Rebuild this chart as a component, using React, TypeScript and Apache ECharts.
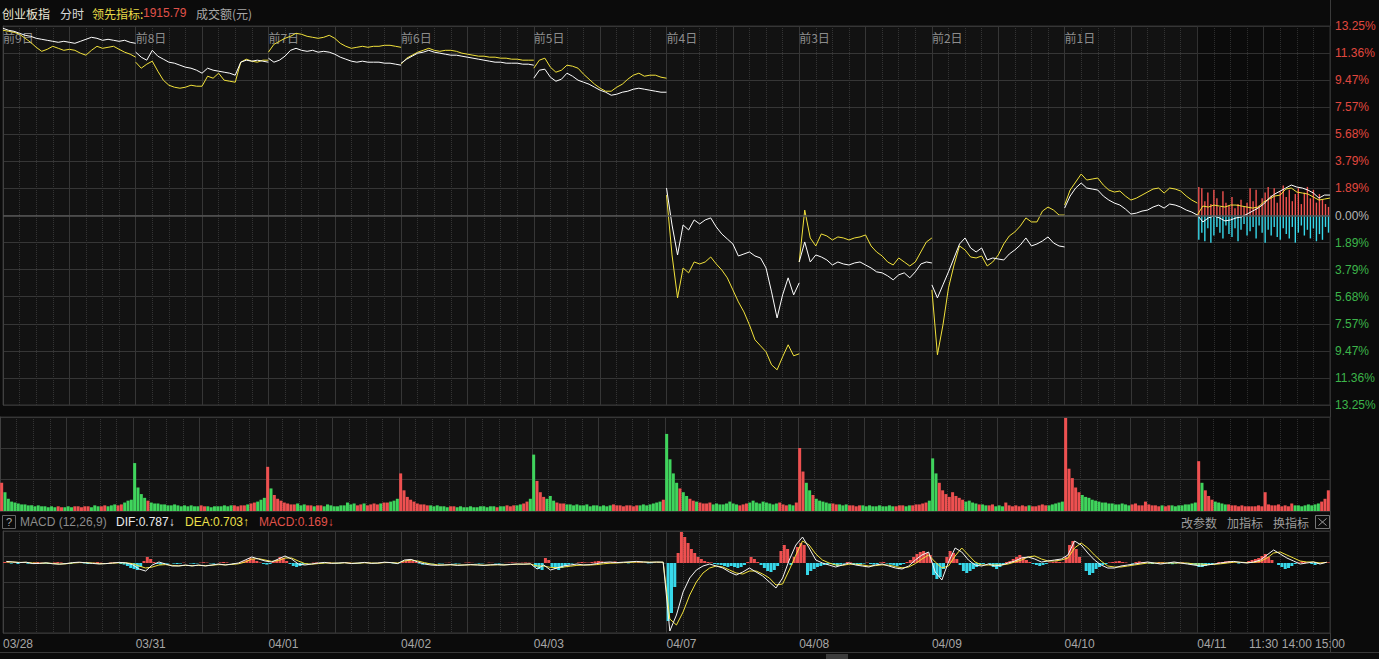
import React, { useEffect, useRef } from "react";
import * as echarts from "echarts";

// ---------- data ----------
const dayDates = ["03/28", "03/31", "04/01", "04/02", "04/03", "04/07", "04/08", "04/09", "04/10", "04/11"];
const dayTags = ["前9日", "前8日", "前7日", "前6日", "前5日", "前4日", "前3日", "前2日", "前1日"];
const timeLabels = ["11:30", "14:00", "15:00"];
const timeOffsets = [120, 180, 240]; // minutes after today's open
const yTickLabels = ["13.25%", "11.36%", "9.47%", "7.57%", "5.68%", "3.79%", "1.89%", "0.00%", "1.89%", "3.79%", "5.68%", "7.57%", "9.47%", "11.36%", "13.25%"];

// 创业板指 (white), % vs today's pre-close, 10-minute points per day
const whiteLine: number[][] = [
  [13.09, 12.95, 12.88, 12.74, 12.6, 12.53, 12.39, 12.32, 12.25, 12.18, 12.11, 12.18, 12.11, 12.04, 12.18, 12.32, 12.46, 12.39, 12.25, 12.32, 12.25, 12.18, 12.25, 12.11, 12.04],
  [11.42, 11.07, 10.86, 11.55, 11.14, 10.93, 10.72, 10.65, 10.51, 10.37, 10.3, 10.16, 9.95, 10.3, 10.16, 10.09, 10.02, 9.95, 9.81, 10.72, 10.86, 10.79, 10.86, 10.79, 10.72],
  [11.0, 10.72, 10.86, 11.14, 11.55, 11.69, 11.55, 11.48, 11.55, 11.42, 11.48, 11.42, 11.28, 11.07, 10.93, 10.79, 10.72, 10.79, 10.72, 10.72, 10.72, 10.65, 10.65, 10.58, 10.51],
  [10.65, 10.93, 11.14, 11.35, 11.42, 11.55, 11.42, 11.35, 11.28, 11.21, 11.21, 11.14, 11.07, 11.0, 10.93, 10.86, 10.79, 10.72, 10.72, 10.65, 10.65, 10.65, 10.58, 10.58, 10.51],
  [9.6, 10.16, 10.23, 9.67, 9.39, 9.53, 9.95, 9.74, 9.46, 9.32, 9.18, 8.97, 8.76, 8.62, 8.41, 8.48, 8.62, 8.69, 8.83, 8.9, 8.83, 8.76, 8.69, 8.62, 8.62],
  [1.92, -0.66, -2.76, -0.66, -1.01, -0.31, -0.59, -0.31, -0.17, -0.8, -1.29, -1.64, -1.99, -2.83, -2.69, -2.55, -2.83, -2.97, -3.67, -5.34, -7.16, -5.55, -4.36, -5.55, -4.71],
  [-3.25, -1.85, -3.25, -2.76, -2.9, -3.11, -3.46, -3.25, -3.39, -3.46, -3.32, -3.25, -3.46, -3.67, -3.94, -4.01, -4.22, -4.5, -4.15, -4.01, -4.36, -3.94, -3.39, -3.25, -3.32],
  [-4.85, -5.76, -4.85, -3.94, -2.97, -1.99, -1.57, -2.27, -2.55, -2.27, -3.11, -2.97, -3.04, -3.11, -2.69, -2.41, -2.06, -1.57, -2.13, -1.99, -1.78, -1.5, -1.92, -2.13, -2.2],
  [0.52, 1.36, 1.92, 2.27, 1.92, 1.85, 1.78, 1.36, 1.08, 0.87, 0.73, 0.45, 0.1, 0.17, 0.31, 0.38, 0.59, 0.73, 0.52, 0.8, 0.73, 0.59, 0.38, 0.24, 0.03],
  [0.03, -0.45, -0.17, -0.03, -0.17, -0.38, -0.31, -0.17, -0.1, 0.1, 0.31, 0.52, 0.8, 1.22, 1.5, 1.71, 1.92, 2.13, 1.99, 1.92, 1.78, 1.57, 1.22, 1.43, 1.43],
];

// 领先指标 (yellow)
const yellowLine: number[][] = [
  [12.95, 12.88, 12.81, 12.67, 12.39, 12.11, 11.76, 11.48, 11.62, 11.83, 11.69, 11.55, 11.62, 11.55, 11.35, 11.21, 11.55, 11.83, 11.69, 11.76, 11.83, 11.62, 11.42, 11.28, 11.07],
  [10.72, 10.3, 10.58, 10.79, 10.09, 9.46, 9.11, 8.97, 8.9, 8.97, 9.11, 9.04, 9.04, 9.74, 9.6, 9.95, 9.46, 9.39, 9.32, 10.72, 10.93, 10.79, 10.72, 10.86, 10.86],
  [11.42, 11.97, 12.18, 12.39, 12.53, 12.74, 12.67, 12.53, 12.46, 12.39, 12.46, 12.6, 12.39, 12.04, 11.83, 11.69, 11.76, 11.83, 11.76, 11.83, 11.83, 11.9, 11.9, 11.83, 11.76],
  [10.58, 11.0, 11.21, 11.42, 11.55, 11.69, 11.55, 11.48, 11.55, 11.55, 11.48, 11.35, 11.28, 11.21, 11.14, 11.14, 11.07, 11.07, 11.0, 11.0, 10.93, 10.93, 10.86, 10.86, 10.86],
  [10.3, 10.86, 11.0, 10.37, 10.02, 10.16, 10.51, 10.44, 10.3, 9.88, 9.53, 9.18, 8.9, 8.69, 8.69, 8.97, 9.18, 9.53, 9.81, 9.95, 9.74, 9.81, 9.81, 9.67, 9.6],
  [1.43, -2.76, -5.76, -3.67, -4.01, -3.25, -3.39, -3.25, -2.9, -3.39, -3.81, -4.36, -5.2, -6.04, -6.74, -7.65, -8.69, -9.11, -9.53, -10.44, -10.79, -9.88, -9.04, -9.81, -9.67],
  [-3.25, 0.38, -1.57, -2.13, -1.29, -1.43, -1.71, -1.5, -1.57, -1.71, -1.57, -1.5, -1.36, -2.13, -2.55, -2.83, -3.25, -3.46, -2.97, -3.25, -3.53, -3.25, -2.55, -1.85, -1.57],
  [-5.2, -9.74, -7.65, -5.06, -3.46, -2.13, -2.41, -2.9, -2.97, -2.83, -3.53, -3.25, -2.76, -1.99, -1.43, -1.15, -0.73, -0.17, -0.45, -0.45, 0.31, 0.59, 0.38, 0.03, 0.03],
  [0.73, 1.78, 2.34, 2.9, 2.48, 2.55, 2.62, 2.13, 1.78, 1.64, 1.71, 1.36, 1.08, 1.22, 1.43, 1.64, 1.85, 1.92, 1.57, 1.92, 1.85, 1.71, 1.36, 1.08, 0.87],
  [0.03, 0.66, 0.59, 0.73, 0.66, 0.59, 0.73, 0.73, 0.66, 0.59, 0.52, 0.59, 0.94, 1.15, 1.36, 1.43, 1.85, 1.92, 1.64, 1.57, 1.5, 1.29, 1.08, 1.15, 1.22],
];

// today's buy / sell strength bars (same % scale)
const todayBuy = [2.0, 1.9, 1.0, 1.6, 0.8, 1.8, 1.2, 0.6, 1.7, 0.9, 0.7, 1.3, 0.5, 0.8, 1.1, 0.6, 0.9, 1.9, 1.0, 1.8, 0.7, 1.2, 1.6, 2.0, 1.4, 1.9, 0.9, 1.7, 2.1, 1.3, 1.8, 1.0, 1.5, 1.9, 0.8, 1.6, 2.0, 1.2, 1.8, 0.9, 1.5, 1.1, 0.8, 0.6];
const todaySell = [-1.7, -1.2, -1.8, -0.9, -1.9, -1.4, -0.8, -1.2, -1.6, -0.7, -1.3, -1.5, -0.9, -1.8, -1.0, -0.6, -1.4, -1.1, -0.8, -1.6, -0.7, -1.2, -1.9, -1.0, -1.4, -0.8, -1.5, -1.7, -0.9, -1.3, -1.6, -0.8, -1.9, -1.2, -0.7, -1.4, -1.0, -1.6, -0.9, -1.8, -1.3, -1.7, -0.8, -1.2];

// turnover, 6-minute buckets (relative units, panel max = 100)
const volumeByDay: number[][] = [
  [30, 20, 13, 10, 9, 8, 7, 7, 6, 6, 5, 6, 5, 5, 4, 5, 4, 5, 4, 4, 5, 4, 5, 5, 4, 5, 5, 4, 6, 5, 5, 6, 5, 6, 7, 6, 7, 9, 11, 12],
  [51, 25, 18, 14, 11, 9, 8, 8, 7, 7, 6, 6, 7, 6, 5, 6, 5, 6, 5, 5, 6, 5, 5, 4, 5, 5, 5, 6, 5, 6, 6, 5, 6, 6, 7, 8, 9, 10, 12, 14],
  [47, 24, 17, 13, 11, 9, 8, 7, 7, 8, 6, 7, 6, 6, 5, 6, 6, 5, 7, 6, 5, 5, 6, 6, 9, 7, 8, 6, 7, 8, 6, 7, 8, 7, 8, 9, 9, 10, 11, 13],
  [40, 22, 15, 12, 10, 8, 7, 7, 6, 6, 5, 6, 5, 5, 4, 5, 5, 4, 5, 4, 4, 5, 4, 4, 5, 5, 4, 5, 5, 4, 5, 5, 6, 5, 6, 6, 7, 8, 10, 13],
  [60, 32, 20, 15, 13, 16, 11, 9, 8, 8, 7, 7, 6, 7, 6, 6, 7, 5, 6, 6, 5, 6, 5, 6, 7, 6, 6, 5, 6, 6, 5, 6, 6, 7, 6, 7, 8, 9, 10, 12],
  [82, 55, 40, 30, 24, 20, 16, 13, 11, 10, 9, 8, 8, 9, 7, 8, 7, 7, 8, 10, 8, 7, 6, 7, 8, 9, 11, 9, 8, 10, 9, 8, 7, 8, 9, 7, 6, 7, 6, 9],
  [67, 42, 30, 22, 17, 13, 11, 10, 9, 8, 8, 7, 7, 6, 7, 6, 6, 5, 6, 6, 5, 6, 5, 5, 6, 5, 5, 6, 5, 5, 6, 6, 5, 6, 6, 7, 7, 8, 9, 11],
  [56, 40, 30, 22, 18, 15, 20, 16, 14, 12, 10, 11, 9, 8, 7, 7, 6, 6, 7, 5, 6, 5, 9, 6, 5, 6, 5, 6, 5, 6, 5, 5, 6, 7, 6, 6, 7, 8, 9, 10],
  [99, 45, 35, 25, 20, 17, 15, 14, 12, 11, 10, 9, 9, 8, 8, 7, 7, 8, 7, 6, 7, 8, 6, 6, 10, 7, 6, 6, 5, 6, 5, 6, 6, 5, 6, 6, 7, 7, 8, 9],
  [53, 30, 22, 16, 12, 10, 9, 8, 7, 7, 6, 6, 5, 6, 5, 5, 5, 5, 6, 5, 20, 7, 6, 6, 7, 5, 6, 5, 8, 6, 6, 5, 6, 7, 6, 7, 8, 10, 13, 22],
];

// MACD(12,26,9): DIF / DEA at 12-minute points, histogram at 6-minute buckets
const difLine: number[][] = [
  [0.8, 0.5, 0.2, 0.4, -0.3, -0.2, 0.1, -0.4, -0.6, -0.3, 0.2, 0.4, 0.1, -0.2, -0.5, -0.3, 0, 0.3, 0.1, -0.8],
  [-3, -4, -1, 0.5, -0.5, -1.5, -1.5, -1, -1.5, -1, -1.5, -1, -0.5, -1, -0.5, 0, 1.5, 3, 2, 1],
  [0.5, 2, 3.5, 2, -0.5, -1, -0.5, 0, 0.3, -0.2, 0, 0.2, -0.3, 0, 0.3, -0.2, 0, 0.4, 0.2, -0.3],
  [1.5, 1.8, 0.5, -0.5, -1, -1.2, -1, -0.8, -1.2, -1, -0.8, -1, -1.2, -0.9, -0.8, -1, -0.7, -0.5, -0.6, -0.4],
  [-3, -1, -3.5, -2.5, -1.5, -1, -0.5, -1, -0.8, -0.3, 0.3, 0.5, 0.2, 0.4, 0.6, 0.8, 0.5, 0.3, 0.5, 0.4],
  [-34, -26, -14.5, -7.5, -3.5, -1.5, -0.5, -1.5, -2.5, -4.5, -6, -4.5, -2.5, -4.5, -6.5, -9.5, -12.5, -7.5, 1.5, 9],
  [13, 7.5, 1.5, 0, -1, -2, -1, 0, -1, -1.5, -2, -1, -0.5, -1.5, -2.5, -3, -1.5, 1.5, 4, 5.5],
  [-4.5, -8.5, 0.5, 7.5, 5.5, 1.5, -1, -1.5, -0.5, -1.5, -1, 0, 1, 2.5, 3, 2, 0.5, 1, 1.5, 2],
  [4, 11, 9, 5, 1.5, -1, -2.5, -2.5, -1.5, -1, -0.5, 0, 0.5, 0, -0.5, 0, 0.5, 0, -0.5, -1],
  [-1.5, -1, -0.5, 0, 0.5, 0.8, 0.3, 0, 0.5, 1.5, 4, 6.5, 4.5, 2.5, 1, -0.5, 0, 0.5, -0.5, 0.4],
];
const deaLine: number[][] = [
  [0.5, 0.5, 0.3, 0.3, 0, -0.2, 0, -0.2, -0.5, -0.4, 0, 0.2, 0.2, 0, -0.3, -0.3, -0.1, 0.1, 0.1, -0.3],
  [-1.5, -2.5, -2, -1, -0.8, -1.2, -1.4, -1.2, -1.3, -1.2, -1.3, -1.1, -0.8, -0.9, -0.7, -0.4, 0.5, 2, 2.2, 1.5],
  [0.8, 1.2, 2.5, 2.5, 1, -0.3, -0.6, -0.3, 0, 0, -0.1, 0.1, -0.1, -0.1, 0.1, 0, -0.1, 0.2, 0.2, 0],
  [1, 1.5, 1, 0.2, -0.5, -0.9, -1, -0.9, -1, -1, -0.9, -0.9, -1.1, -1, -0.9, -0.9, -0.8, -0.6, -0.6, -0.5],
  [-1.5, -1.5, -2.2, -2.3, -2, -1.6, -1.2, -1, -1, -0.8, -0.4, -0.1, 0, 0.2, 0.3, 0.5, 0.5, 0.4, 0.4, 0.4],
  [-28, -31, -24.5, -16, -9.5, -5, -2.5, -1.5, -2, -3.5, -5, -5.5, -4, -4, -5.5, -7.5, -11, -10.5, -3.5, 4],
  [11, 9, 4.5, 1.5, 0, -1, -1.2, -0.6, -0.6, -1, -1.5, -1.3, -0.9, -1.1, -1.8, -2.4, -2, -0.3, 2, 4],
  [0.5, -2.5, -1.5, 3.5, 7.5, 4, 0.5, -1, -1, -1, -1, -0.5, 0.5, 1.5, 3, 3.5, 2, 1, 1, 1.5],
  [2.5, 7.5, 10, 7.5, 4, 1, -1.5, -2, -2, -1.5, -1, -0.5, 0, 0, 0, 0, 0, 0, 0, -0.5],
  [-0.5, -0.8, -0.7, -0.4, 0, 0.4, 0.4, 0.2, 0.3, 0.8, 2.5, 5, 5.5, 4, 2.5, 1, 0.5, 0.5, 0, 0.3],
];
const macdHist: number[][] = [
  [0.5, 0.3, -0.3, 0.2, -0.5, 0, 0.3, -0.4, -0.2, 0.3, 0.5, 0.2, -0.3, -0.5, -0.2, 0.3, 0.5, 0.3, -0.2, -0.4, -0.5, 0.2, 0.4, 0.3, -0.2, -0.5, -0.3, 0.2, 0.5, 0.2, -0.3, -0.2, 0.3, 0.4, 0, -0.5, -0.8, -1.5, -2.5, -3],
  [-3.5, -2, 1, 3, 2, 0.5, -0.5, -0.8, -0.5, -0.3, 0, -0.3, -0.5, -0.3, 0.2, 0, -0.2, -0.4, -0.2, 0.2, 0.4, 0.2, -0.2, -0.3, 0, 0.3, 0.5, 0.3, 0, -0.2, 0, 0.3, 0.8, 1.5, 2.5, 2, 1, 0.3, -0.5, -0.8],
  [-0.5, 0.5, 1.5, 3, 2.5, 1, -0.5, -1.5, -2, -1.5, -0.8, -0.3, 0, 0.2, 0.3, 0, -0.2, 0.2, 0.3, 0, -0.3, -0.2, 0.1, 0.3, 0.2, -0.1, -0.3, -0.2, 0.2, 0.3, 0.1, -0.2, -0.1, 0.2, 0.3, 0.2, 0, -0.2, -0.3, -0.1],
  [0.5, 1, 1.5, 1, 0.5, -0.3, -0.8, -0.5, -0.3, -0.2, 0, -0.3, -0.2, 0.1, 0.2, -0.1, -0.3, -0.2, 0, 0.2, 0.3, 0.1, -0.1, -0.3, -0.2, 0, 0.2, 0.1, -0.2, -0.3, -0.1, 0.1, 0.2, 0.3, 0.2, 0.1, 0.2, 0.3, 0.2, 0.1],
  [-2, -3, -3.5, 2.5, 1.5, -2, -3, -3.5, -2.5, -1.5, -0.8, -0.3, 0, 0.3, 0.5, 0.3, 0.2, 0.5, 0.8, 1, 0.8, 0.5, 0.3, 0.5, 0.8, 0.5, 0.2, 0, -0.2, 0, 0.2, 0.4, 0.3, 0, -0.2, -0.1, 0.1, 0.2, 0, -0.1],
  [-29, -25, -12, 5, 15.5, 13, 10, 7, 5, 3, 2, 1, 0.5, 0.3, -0.5, -0.8, -1, -1.5, -2, -1.5, -2, -2.5, -2, -1, 0.5, 3, 2, 0.5, -1, -2.5, -4, -4.5, -3.5, -1.5, 6, 9, 7, -1, 3, 8],
  [10, 9, -6, -4, -3, -2, -1.5, -1, -0.8, -0.5, -1, -1.5, -0.8, -0.3, 0.5, 0.3, -0.5, -1, -0.8, -0.3, 0.2, -0.5, -0.8, -0.5, 0.3, 0.5, -0.3, -0.8, -1.2, -1.5, -1, -0.5, 0.5, 1.5, 3, 4.5, 5.5, 6, 5, 4],
  [-6, -8, -7, -3, 3, 6, 5, 2, -1, -4, -5, -4, -3, -2, -1, -0.5, 0, -0.5, -2, -3, -2, -1, 0.5, 1, 2, 3, 4, 3, 1.5, 0.5, -0.5, -1, -1.5, -1, -0.5, 0.3, 0.5, 0.8, 0.5, 0.3],
  [3, 9, 11, 7, 3, 0, -4, -6, -5, -3, -2, -1, -0.5, 0.3, 0.5, 0.8, 1, 0.5, 0.3, 0, -0.3, 0.5, 0.8, 0.5, 0.2, -0.3, -0.5, 0, 0.5, 0.4, 0, -0.4, -0.6, -0.3, 0.2, 0.3, -0.2, -0.5, -0.8, -1],
  [-2, -2, -1.5, -1, -0.5, 0, 0.5, 0.5, 0.8, 1, 0.5, 0, -0.3, 0.2, 0.5, 1, 1.5, 2, 2.5, 3.5, 4.5, 3, 1.5, 0, -1, -2, -3, -2.5, -1.5, -0.5, 0.3, 0.8, 0.5, 0, -0.5, -1, -0.5, 0.2, 0.5, 0.3],
];

// ---------- helpers ----------
const MIN_PER_DAY = 240;
const DAYS = dayDates.length;
const TOTAL = DAYS * MIN_PER_DAY;
const TODAY = (DAYS - 1) * MIN_PER_DAY;
const PCT_MAX = 13.25;
const PCT_STEP = PCT_MAX / 7;

const RED = "#ee5050";
const GREEN = "#3fd45c";
const CYAN = "#37d8ea";
const YELLOW = "#f2e23c";
const CJK = '"Noto Sans CJK SC", "Liberation Sans", sans-serif';
const LAT = '"Liberation Sans", "DejaVu Sans", sans-serif';

// each day is a separate piece of the line (break between days)
function brokenLine(days: number[][]) {
  const out: any[] = [];
  days.forEach((vals, d) => {
    const n = vals.length - 1;
    vals.forEach((v, k) => out.push([d * MIN_PER_DAY + (k * MIN_PER_DAY) / n, v]));
    if (d < days.length - 1) out.push([(d + 1) * MIN_PER_DAY, null]);
  });
  return out;
}
// bucketed values, centred in their bucket
function bucketed(days: number[][]) {
  const out: number[][] = [];
  days.forEach((vals, d) => {
    const w = MIN_PER_DAY / vals.length;
    vals.forEach((v, k) => out.push([d * MIN_PER_DAY + (k + 0.5) * w, v]));
  });
  return out;
}

const volumeItems = volumeByDay.flatMap((vals, d) => {
  const w = whiteLine[d];
  const pStep = MIN_PER_DAY / (w.length - 1);
  const vStep = MIN_PER_DAY / vals.length;
  return vals.map((v, j) => {
    let up: boolean;
    if (j === 0) {
      const prevDay = d > 0 ? whiteLine[d - 1] : w;
      up = w[0] >= prevDay[prevDay.length - 1];
    } else {
      const k = Math.min(w.length - 2, Math.floor((j * vStep) / pStep));
      up = w[k + 1] >= w[k];
    }
    return {
      value: [d * MIN_PER_DAY + (j + 0.5) * vStep, v],
      itemStyle: { color: up ? RED : GREEN },
    };
  });
});

const histItems = bucketed(macdHist).map(([x, v]) => ({
  value: [x, v],
  itemStyle: { color: v >= 0 ? RED : CYAN },
}));

const todayBar = (vals: number[]) =>
  vals.map((v, j) => [TODAY + ((j + 0.5) * MIN_PER_DAY) / vals.length, v]);

const dayStarts = dayDates.map((_, i) => i * MIN_PER_DAY);

const prevDaysArea = {
  silent: true,
  itemStyle: { color: "rgba(255,255,255,0.03)" },
  data: [[{ xAxis: 0 }, { xAxis: TODAY }]],
};

const splitSolid = { show: true, lineStyle: { color: "#303030", width: 1 } };
const splitDotted = { show: true, lineStyle: { color: "#2e2e2e", width: 1, type: "dotted" } };

const baseX = (gridIndex: number) => ({
  type: "value",
  gridIndex,
  min: 0,
  max: TOTAL,
  interval: 120,
  axisLine: { show: false },
  axisTick: { show: false },
  splitLine: splitSolid,
  minorTick: { show: false, splitNumber: 4 },
  minorSplitLine: splitDotted,
});

function text(x: number, y: number, s: string, fill: string, extra: any = {}) {
  return {
    type: "text",
    x,
    y,
    silent: true,
    style: { text: s, fill, fontSize: 12, fontFamily: CJK, verticalAlign: "middle", ...extra },
  };
}

const option: any = {
  animation: false,
  backgroundColor: "#0b0b0b",
  grid: [
    { left: 0, top: 26, width: 1330, height: 379, show: true, backgroundColor: "#0b0b0b", borderColor: "#333", borderWidth: 1 },
    { left: 0, top: 417, width: 1330, height: 94, show: true, backgroundColor: "#0b0b0b", borderColor: "#333", borderWidth: 1 },
    { left: 0, top: 531, width: 1330, height: 102, show: true, backgroundColor: "#0b0b0b", borderColor: "#333", borderWidth: 1 },
  ],
  xAxis: [
    {
      ...baseX(0),
      position: "top",
      axisLabel: {
        show: true,
        inside: true,
        customValues: dayStarts.slice(0, dayTags.length),
        formatter: (v: number) => dayTags[Math.round(v / MIN_PER_DAY)] ?? "",
        color: "#8a8a8a",
        fontSize: 12,
        fontFamily: CJK,
        align: "left",
        margin: 5,
      },
    },
    { ...baseX(1), axisLabel: { show: false } },
    {
      ...baseX(2),
      position: "bottom",
      axisLabel: {
        show: true,
        customValues: dayStarts,
        formatter: (v: number) => dayDates[Math.round(v / MIN_PER_DAY)] ?? "",
        color: "#a6a6a6",
        fontSize: 12,
        fontFamily: LAT,
        align: "left",
        margin: 5,
      },
    },
    {
      type: "value",
      gridIndex: 2,
      min: 0,
      max: TOTAL,
      position: "bottom",
      axisLine: { show: false },
      axisTick: { show: false },
      splitLine: { show: false },
      axisLabel: {
        show: true,
        customValues: timeOffsets.map((o) => TODAY + o),
        formatter: (v: number) => timeLabels[timeOffsets.indexOf(Math.round(v - TODAY))] ?? "",
        color: "#a6a6a6",
        fontSize: 12,
        fontFamily: LAT,
        align: "center",
        margin: 5,
      },
    },
  ],
  yAxis: [
    {
      type: "value",
      gridIndex: 0,
      min: -PCT_MAX,
      max: PCT_MAX,
      interval: PCT_STEP,
      position: "right",
      axisLine: { show: true, lineStyle: { color: "#3a3a3a" } },
      axisTick: { show: false },
      splitLine: splitSolid,
      axisLabel: {
        margin: 5,
        fontSize: 12,
        fontFamily: LAT,
        formatter: (v: number) => yTickLabels[Math.round((v + PCT_MAX) / PCT_STEP)] ?? "",
        color: (v: any) => {
          const n = Number(v);
          return n > 0.001 ? "#e0483f" : n < -0.001 ? "#3cb54a" : "#b4b4b4";
        },
      },
    },
    {
      type: "value",
      gridIndex: 1,
      min: 0,
      max: 100,
      interval: 100 / 3,
      position: "right",
      axisLine: { show: true, lineStyle: { color: "#3a3a3a" } },
      axisTick: { show: false },
      axisLabel: { show: false },
      splitLine: splitSolid,
    },
    {
      type: "value",
      gridIndex: 2,
      min: -35,
      max: 16,
      interval: 12.75,
      position: "right",
      axisLine: { show: true, lineStyle: { color: "#3a3a3a" } },
      axisTick: { show: false },
      axisLabel: { show: false },
      splitLine: splitSolid,
    },
  ],
  series: [
    {
      type: "bar",
      xAxisIndex: 0,
      yAxisIndex: 0,
      data: todayBar(todayBuy),
      barWidth: 1.4,
      barGap: "-100%",
      itemStyle: { color: "#f0524f" },
      z: 2,
      markArea: prevDaysArea,
    },
    {
      type: "bar",
      xAxisIndex: 0,
      yAxisIndex: 0,
      data: todayBar(todaySell),
      barWidth: 1.4,
      barGap: "-100%",
      itemStyle: { color: CYAN },
      z: 2,
    },
    {
      type: "line",
      xAxisIndex: 0,
      yAxisIndex: 0,
      data: brokenLine(yellowLine),
      showSymbol: false,
      symbol: "none",
      connectNulls: false,
      lineStyle: { color: YELLOW, width: 1 },
      z: 3,
    },
    {
      type: "line",
      xAxisIndex: 0,
      yAxisIndex: 0,
      data: brokenLine(whiteLine),
      showSymbol: false,
      symbol: "none",
      connectNulls: false,
      lineStyle: { color: "#ffffff", width: 1 },
      z: 4,
      markLine: {
        silent: true,
        symbol: ["none", "none"],
        label: { show: false },
        lineStyle: { color: "#555", width: 1.5, type: "solid" },
        data: [{ yAxis: 0 }],
      },
    },
    {
      type: "bar",
      xAxisIndex: 1,
      yAxisIndex: 1,
      data: volumeItems,
      barWidth: 3,
      z: 2,
      markArea: prevDaysArea,
    },
    {
      type: "bar",
      xAxisIndex: 2,
      yAxisIndex: 2,
      data: histItems,
      barWidth: 3,
      z: 2,
      markArea: prevDaysArea,
    },
    {
      type: "line",
      xAxisIndex: 2,
      yAxisIndex: 2,
      data: bucketed(deaLine),
      showSymbol: false,
      symbol: "none",
      lineStyle: { color: YELLOW, width: 1 },
      z: 3,
    },
    {
      type: "line",
      xAxisIndex: 2,
      yAxisIndex: 2,
      data: bucketed(difLine),
      showSymbol: false,
      symbol: "none",
      lineStyle: { color: "#f4f4f4", width: 1 },
      z: 4,
    },
  ],
  graphic: [
    // header
    text(2, 13, "创业板指", "#ebe7d6"),
    text(60, 13, "分时", "#d8d8d8"),
    text(92, 13, "领先指标:", "#e9dc48"),
    text(143, 13, "1915.79", "#e0524a", { fontFamily: LAT }),
    text(196, 13, "成交额(元)", "#a8a8a8"),
    // right border line
    { type: "line", silent: true, shape: { x1: 1330.5, y1: 0, x2: 1330.5, y2: 652 }, style: { stroke: "#3a3a3a", lineWidth: 1 } },
    // MACD header row
    { type: "rect", silent: true, shape: { x: 2.5, y: 515.5, width: 13, height: 13 }, style: { fill: "none", stroke: "#666", lineWidth: 1 } },
    text(9, 522, "?", "#aaaaaa", { align: "center", fontFamily: LAT, fontSize: 11 }),
    text(20, 522, "MACD (12,26,9)", "#8c8c8c", { fontFamily: LAT }),
    text(116, 522, "DIF:0.787↓", "#ececec", { fontFamily: LAT }),
    text(185, 522, "DEA:0.703↑", "#ece04a", { fontFamily: LAT }),
    text(259, 522, "MACD:0.169↓", "#e0524a", { fontFamily: LAT }),
    text(1181, 522, "改参数", "#9c9c9c"),
    text(1227, 522, "加指标", "#9c9c9c"),
    text(1273, 522, "换指标", "#9c9c9c"),
    { type: "rect", silent: true, shape: { x: 1315.5, y: 515.5, width: 14, height: 13 }, style: { fill: "none", stroke: "#777", lineWidth: 1 } },
    { type: "line", silent: true, shape: { x1: 1318.5, y1: 518.5, x2: 1326.5, y2: 525.5 }, style: { stroke: "#999", lineWidth: 1 } },
    { type: "line", silent: true, shape: { x1: 1326.5, y1: 518.5, x2: 1318.5, y2: 525.5 }, style: { stroke: "#999", lineWidth: 1 } },
    // bottom strip
    { type: "line", silent: true, shape: { x1: 0, y1: 652.5, x2: 1379, y2: 652.5 }, style: { stroke: "#3a3a3a", lineWidth: 1 } },
    { type: "rect", silent: true, shape: { x: 826, y: 654, width: 22, height: 6 }, style: { fill: "#3c3c3c" } },
  ],
};

export default function App() {
  const ref = useRef<HTMLDivElement>(null);
  useEffect(() => {
    document.body.style.margin = "0";
    document.body.style.background = "#0b0b0b";
    const chart = echarts.init(ref.current as HTMLDivElement, null, { renderer: "svg", width: 1379, height: 659 });
    chart.setOption(option);
    return () => chart.dispose();
  }, []);
  return <div ref={ref} style={{ width: 1379, height: 659, position: "absolute", left: 0, top: 0 }} />;
}
